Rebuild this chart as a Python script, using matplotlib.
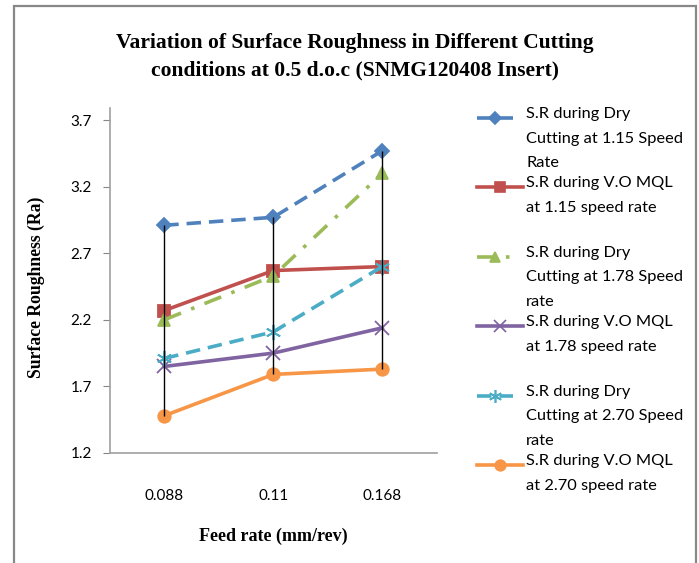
import matplotlib
matplotlib.use("Agg")
import matplotlib.pyplot as plt
from matplotlib.lines import Line2D
from matplotlib.patches import Rectangle
import numpy as np

# donnees
feed_rates = ["0.088", "0.11", "0.168"]
dry_115 = [2.91, 2.97, 3.47]
mql_115 = [2.27, 2.57, 2.60]
dry_178 = [2.20, 2.53, 3.30]
mql_178 = [1.85, 1.95, 2.14]
dry_270 = [1.91, 2.11, 2.60]
mql_270 = [1.48, 1.79, 1.83]

labels = [
    "S.R during Dry\nCutting at 1.15 Speed\nRate",
    "S.R during V.O MQL\nat 1.15 speed rate",
    "S.R during Dry\nCutting at 1.78 Speed\nrate",
    "S.R during V.O MQL\nat 1.78 speed rate",
    "S.R during Dry\nCutting at 2.70 Speed\nrate",
    "S.R during V.O MQL\nat 2.70 speed rate",
]
yticks = [1.2, 1.7, 2.2, 2.7, 3.2, 3.7]

series = [dry_115, mql_115, dry_178, mql_178, dry_270, mql_270]
colors = ["#4F81BD", "#C0504D", "#9BBB59", "#8064A2", "#4BACC6", "#F79646"]
styles = [(0, (4, 2.2)), "-", (0, (5, 3, 1, 3)), "-", (0, (4, 2.2)), "-"]
markers = ["D", "s", "^", "x", (6, 2, 0), "o"]
msizes = [7, 9, 9, 10, 11, 9]

fig = plt.figure(figsize=(6.99, 5.63), dpi=100)
ax = fig.add_axes([0.157, 0.1954, 0.468, 0.6126])

x = np.arange(len(feed_rates))

# lignes haut-bas
data = np.array(series)
ax.vlines(x, data.min(axis=0), data.max(axis=0), color="black", lw=1.0, zorder=3)

for vals, c, ls, m, ms in zip(series, colors, styles, markers, msizes):
    ax.plot(x, vals, color=c, ls=ls, lw=2.6, marker=m, ms=ms,
            mec=c, mfc=c, mew=1.3, zorder=2)

ax.set_xlim(-0.5, 2.5)
ax.set_ylim(1.2, 3.79)
ax.set_yticks(yticks)
ax.set_yticklabels([f"{v:.1f}" for v in yticks], fontsize=11, family="Lato")
ax.set_xticks(x)
ax.set_xticklabels(feed_rates, fontsize=11, family="Lato")
ax.tick_params(axis="x", length=0, pad=26)
ax.tick_params(axis="y", length=5, color="#868686", pad=8)
for s in ["top", "right"]:
    ax.spines[s].set_visible(False)
for s in ["left", "bottom"]:
    ax.spines[s].set_color("#A0A0A0")
    ax.spines[s].set_linewidth(1.2)

ax.set_xlabel("Feed rate (mm/rev)", family="Liberation Serif", fontweight="bold",
              fontsize=13, labelpad=18)
ax.set_ylabel("Surface Roughness (Ra)", family="Liberation Serif", fontweight="bold",
              fontsize=12.7)
ax.yaxis.set_label_coords(-0.199, 0.48)

fig.text(0.508, 0.9, "Variation of Surface Roughness in Different Cutting\n"
         "conditions at 0.5 d.o.c (SNMG120408 Insert)",
         ha="center", va="center", family="Liberation Serif", fontweight="bold",
         fontsize=15.5, linespacing=1.5)

# legende faite a la main
W, H = 699, 563
y0, step = 118, 69.4
for i, (lab, c, ls, m, ms) in enumerate(zip(labels, colors, styles, markers, msizes)):
    yy = 1 - (y0 + i * step) / H
    x_end = 523 if ls == "-" else 513
    ln = Line2D([477 / W, x_end / W], [yy, yy], color=c, ls=ls, lw=2.6,
                transform=fig.transFigure)
    mk = Line2D([(477 + x_end) / 2 / W], [yy], color=c, marker=m, ms=ms * 0.85,
                mec=c, mfc=c, mew=1.2, ls="none", transform=fig.transFigure)
    fig.add_artist(ln)
    fig.add_artist(mk)
    fig.text(526 / W, yy + 11 / H, lab, ha="left", va="top", family="Lato",
             fontsize=11.8, linespacing=1.97)

# cadre
fig.add_artist(Rectangle((14 / W, -0.05), (696 - 14) / W, 1.05 - 6 / H,
                         transform=fig.transFigure, fill=False,
                         edgecolor="#888888", lw=1.6))

fig.savefig("out.png", dpi=100)
